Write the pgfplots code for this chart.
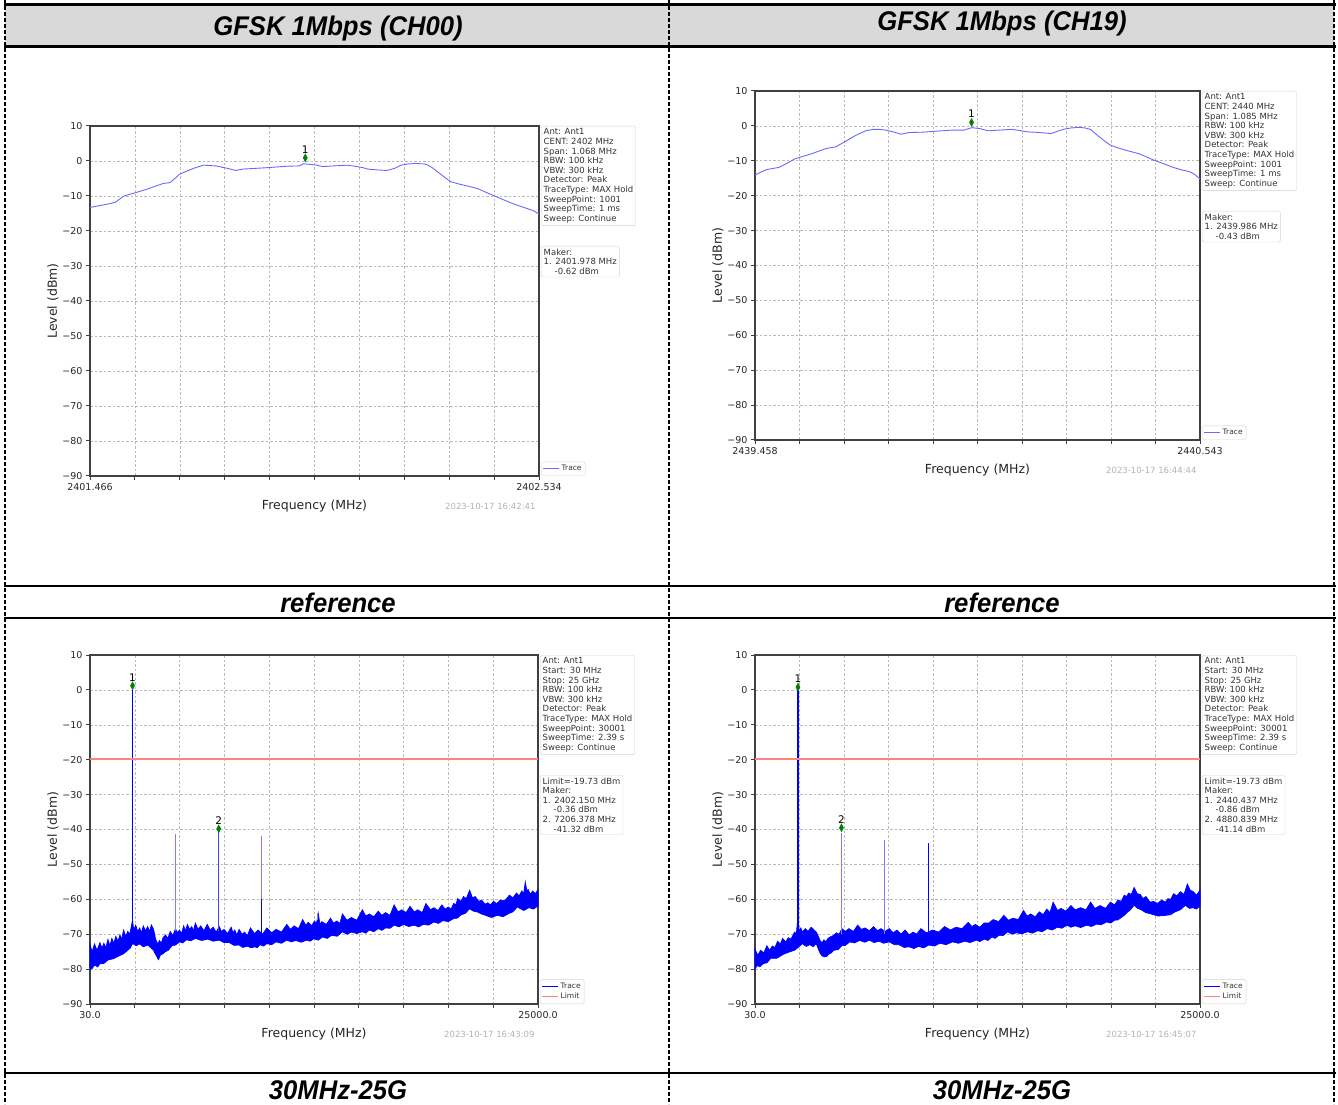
\documentclass[border=0pt]{standalone}
\usepackage{fontspec}
\setmainfont{DejaVu Sans}
\newfontfamily\arialfont{Liberation Sans}
\usepackage{pgfplots}
\pgfplotsset{compat=1.18}

\definecolor{hdrgray}{RGB}{217,217,217}
\definecolor{tracelight}{RGB}{105,105,255}
\definecolor{spurlight}{RGB}{125,125,255}
\definecolor{mkgreen}{RGB}{0,128,0}
\definecolor{limitred}{RGB}{255,130,130}

\pgfplotsset{
  spec/.style={
    scale only axis, clip=false,
    ymin=-90, ymax=10,
    scaled x ticks=false,
    axis line style={black!75, line width=1.2pt},
    grid=major,
    major grid style={gray!55, dash pattern=on 2.5pt off 2pt, line width=0.6pt},
    tick align=outside, tick pos=left,
    major tick length=4pt,
    tick style={black!75, line width=1pt},
    ytick={10,0,-10,-20,-30,-40,-50,-60,-70,-80,-90},
    yticklabels={10,0,−10,−20,−30,−40,−50,−60,−70,−80,−90},
    tick label style={font=\fontsize{9.5}{11}\selectfont, text=black!85},
    xlabel={Frequency (MHz)}, ylabel={Level (dBm)},
    label style={font=\fontsize{12.5}{14}\selectfont, text=black!85},
    xlabel style={at={([yshift=-30pt]axis description cs:0.5,0)}, anchor=center},
    ylabel style={at={([xshift=-37pt]axis description cs:0,0.5)}, anchor=center},
    legend style={at={([xshift=2pt]axis description cs:1,0)}, anchor=south west,
      font=\fontsize{7.5}{8.5}\selectfont, draw=gray!35, rounded corners=1.5pt,
      inner sep=1.5pt, row sep=-1pt, text=black!80},
    legend cell align=left,
    legend image code/.code={\draw[#1] (0pt,0pt) -- (16pt,0pt);},
  },
  mk/.style={only marks, mark=diamond*, mark size=4pt, color=mkgreen,
    mark options={xscale=0.7}, forget plot},
}
\tikzset{
  infobox/.style={draw=gray!35, fill=white, rounded corners=1.5pt, align=left,
    inner sep=2.5pt, font=\fontsize{8.5}{9.6}\selectfont, text=black!80},
  stamp/.style={anchor=east, text=gray!60, font=\fontsize{8.5}{10}\selectfont},
  mklabel/.style={above, font=\fontsize{10.5}{11}\selectfont, yshift=1pt, text=black},
}

\begin{document}
\begin{tikzpicture}[x=1pt,y=1pt]
\useasboundingbox (0,0) rectangle (1338,1104);

% table frame
\fill[hdrgray] (5,1099) rectangle (1334,1057);
\draw[line width=3pt] (4,1099) -- (1336,1099);
\draw[line width=3pt] (4,1057) -- (1336,1057);
\draw[line width=2.5pt] (4,518) -- (1336,518);
\draw[line width=2.5pt] (4,486) -- (1336,486);
\draw[line width=2.5pt] (4,31) -- (1336,31);
\foreach \xx in {5,669,1334}
  \draw[line width=1.5pt, dash pattern=on 4pt off 2pt] (\xx,1104) -- (\xx,0);

\begin{scope}[font=\arialfont\bfseries\itshape\fontsize{27}{30}\selectfont]
\node[xscale=0.95] at (338,1075) {GFSK 1Mbps (CH00)};
\node[xscale=0.95] at (1002,1080) {GFSK 1Mbps (CH19)};
\node[xscale=0.95] at (338,501) {reference};
\node[xscale=0.95] at (1002,501) {reference};
\node[xscale=0.95] at (338,14) {30MHz-25G};
\node[xscale=0.95] at (1002,14) {30MHz-25G};
\end{scope}

% ---------- CH00 in-band ----------
\begin{axis}[spec, at={(90pt,628pt)}, anchor=south west,
  width=449pt, height=350pt, xmin=0, xmax=1068,
  xtick={0,106.8,213.6,320.4,427.2,534,640.8,747.6,854.4,961.2,1068},
  xticklabels={2401.466,,,,,,,,,,2402.534}]
\addlegendimage{tracelight, line width=1pt}
\addlegendentry{Trace}
\addplot[tracelight, line width=0.9pt, forget plot] coordinates {
(0,-13.3)(20,-12.8)(43,-12.3)(60,-11.8)(81,-10)(110,-9)(137,-8)(160,-7)(175,-6.4)
(190,-6.2)(200,-5.2)(213,-3.8)(232,-2.8)(251,-1.9)(270,-1.2)(285,-1.3)(299,-1.4)
(315,-1.8)(327,-2.1)(346,-2.7)(365,-2.3)(395,-2.1)(422,-1.9)(445,-1.7)(469,-1.5)
(498,-1.4)(507,-0.8)(517,-0.9)(535,-1.1)(554,-1.6)(580,-1.4)(611,-1.2)(630,-1.5)
(649,-1.9)(660,-2.3)(668,-2.4)(690,-2.6)(706,-2.7)(725,-2.1)(740,-1.2)(753,-0.9)
(772,-0.7)(790,-0.8)(801,-1.0)(815,-2)(829,-3.3)(845,-4.8)(858,-5.9)(875,-6.5)
(896,-7.1)(910,-7.5)(924,-8)(943,-9)(962,-10)(980,-10.9)(1000,-11.9)(1020,-12.8)
(1038,-13.5)(1055,-14.2)(1068,-15.2)};
\addplot[mk] coordinates {(512,0.9)} node[mklabel] {1};
\node[infobox, anchor=north west] at ([xshift=2pt]axis description cs:1,1)
  {Ant: Ant1\\CENT: 2402 MHz\\Span: 1.068 MHz\\RBW: 100 kHz\\VBW: 300 kHz\\Detector: Peak\\TraceType: MAX Hold\\SweepPoint: 1001\\SweepTime: 1 ms\\Sweep: Continue};
\node[infobox, anchor=north west] at ([xshift=2pt,yshift=-120pt]axis description cs:1,1)
  {Maker:\\1. 2401.978 MHz\\\hspace*{11pt}-0.62 dBm};
\node[stamp] at ([yshift=-30pt]axis description cs:1,0) {2023-10-17 16:42:41};
\end{axis}

% ---------- CH19 in-band ----------
\begin{axis}[spec, at={(755pt,664pt)}, anchor=south west,
  width=445pt, height=349pt, xmin=0, xmax=1085,
  xtick={0,108.5,217,325.5,434,542.5,651,759.5,868,976.5,1085},
  xticklabels={2439.458,,,,,,,,,,2440.543}]
\addlegendimage{tracelight, line width=1pt}
\addlegendentry{Trace}
\addplot[tracelight, line width=0.9pt, forget plot] coordinates {
(0,-14.1)(15,-13.2)(29,-12.5)(58,-11.9)(77,-10.8)(96,-9.5)(115,-8.8)(135,-8.1)
(154,-7.3)(173,-6.5)(197,-6.0)(212,-5.0)(227,-4)(241,-3.0)(255,-2.2)(270,-1.4)
(289,-1.0)(303,-1.0)(318,-1.2)(337,-1.7)(356,-2.4)(375,-1.9)(410,-1.8)(443,-1.5)
(481,-1.2)(510,-1.2)(529,-0.5)(549,-0.8)(568,-1.4)(597,-1.2)(626,-1.0)(645,-1.3)
(664,-1.7)(693,-1.9)(722,-2.2)(741,-1.4)(755,-0.9)(770,-0.6)(789,-0.4)(805,-0.6)
(818,-1.0)(838,-3.0)(852,-4.3)(866,-5.5)(885,-6.3)(905,-7.0)(934,-7.9)(953,-8.8)
(972,-9.8)(1000,-11)(1020,-11.9)(1040,-12.6)(1059,-13.1)(1072,-13.9)(1085,-15.2)};
\addplot[mk] coordinates {(528,1.0)} node[mklabel] {1};
\node[infobox, anchor=north west] at ([xshift=2pt]axis description cs:1,1)
  {Ant: Ant1\\CENT: 2440 MHz\\Span: 1.085 MHz\\RBW: 100 kHz\\VBW: 300 kHz\\Detector: Peak\\TraceType: MAX Hold\\SweepPoint: 1001\\SweepTime: 1 ms\\Sweep: Continue};
\node[infobox, anchor=north west] at ([xshift=2pt,yshift=-120pt]axis description cs:1,1)
  {Maker:\\1. 2439.986 MHz\\\hspace*{11pt}-0.43 dBm};
\node[stamp] at ([yshift=-30pt]axis description cs:1,0) {2023-10-17 16:44:44};
\end{axis}

% ---------- CH00 30MHz-25GHz ----------
\begin{axis}[spec, at={(90pt,100pt)}, anchor=south west,
  width=448pt, height=349pt, xmin=30, xmax=25000,
  xtick={30,2527,5024,7521,10018,12515,15012,17509,20006,22503,25000},
  xticklabels={30.0,,,,,,,,,,25000.0}]
\addlegendimage{blue, line width=1pt}
\addlegendentry{Trace}
\addlegendimage{limitred, line width=1pt}
\addlegendentry{Limit}
\addplot[fill=blue, draw=blue, line width=0.7pt, forget plot] coordinates {
(30,-73)(150,-75)(280,-72.8)(420,-74.6)(584,-72.4)(700,-74)(800,-72.6)(920,-73.8)
(1027,-71.5)(1140,-73.2)(1250,-71.2)(1360,-72.6)(1470,-70.6)(1590,-72)(1700,-70.2)(1800,-71.4)
(1900,-68.8)(2020,-70.6)(2135,-69.2)(2250,-70)(2330,-67.8)(2401,-66)(2470,-68.8)(2578,-67.4)
(2690,-69.2)(2800,-68.2)(2900,-69.6)(3000,-67.6)(3120,-69)(3243,-67.8)(3350,-69.2)(3450,-67.3)
(3575,-68.6)(3686,-71.4)(3800,-72.8)(3907,-71.8)(4000,-72.6)(4100,-71)(4240,-70.2)(4370,-71.2)
(4500,-69.2)(4650,-70.4)(4794,-68.4)(4900,-69.6)(5015,-68.8)(5130,-69.8)(5250,-67.6)(5350,-69)
(5458,-67.2)(5580,-68.6)(5700,-67.8)(5800,-69)(5902,-66.8)(6050,-68.6)(6200,-67.6)(6380,-69)
(6566,-67.2)(6730,-68.8)(6900,-68)(7060,-69.4)(7231,-67.8)(7360,-69.2)(7500,-68.6)(7700,-69.8)
(7896,-68)(8000,-69.6)(8100,-68.8)(8220,-70.2)(8339,-68.6)(8500,-70)(8650,-69.4)(8800,-70.4)
(8974,-68.2)(9200,-69.8)(9400,-68.8)(9650,-70)(9890,-68.2)(10150,-69.6)(10400,-68.6)(10700,-69.4)
(10998,-67.2)(11200,-68.6)(11400,-67.6)(11650,-68.4)(11884,-65.8)(12050,-67.4)(12200,-66.6)(12380,-67.6)
(12549,-66.2)(12650,-67)(12750,-64)(12850,-67.2)(12950,-66.4)(13200,-67.2)(13435,-65.4)(13600,-66.8)
(13800,-66.2)(13950,-67)(14100,-64.2)(14350,-66)(14600,-65.2)(14900,-66)(15208,-63)(15400,-64.8)
(15600,-64.2)(15850,-65)(16094,-63.4)(16300,-64.6)(16500,-63.8)(16750,-64.6)(16980,-61.6)(17200,-63.6)
(17400,-63)(17650,-63.8)(17866,-62)(18100,-63.6)(18300,-63)(18550,-63.8)(18753,-61.2)(19000,-63)
(19200,-62.4)(19420,-63.2)(19639,-61.6)(19820,-62.8)(20000,-62.2)(20150,-62.8)(20304,-61.2)(20420,-61.6)
(20525,-59.8)(20700,-60.6)(20850,-59.2)(21000,-59.8)(21190,-57.4)(21350,-59.6)(21500,-59.2)(21700,-60.6)
(21855,-60.2)(22050,-61.4)(22200,-61)(22350,-61.6)(22519,-60.6)(22700,-61.2)(22900,-60.2)(23150,-60.4)
(23406,-58.8)(23600,-59.6)(23800,-58.2)(23950,-59)(24100,-57.6)(24200,-58.4)(24292,-55)(24380,-57.6)
(24450,-57.2)(24580,-58.6)(24700,-57.6)(24850,-58.4)(25000,-57.2)
(25000,-61.9)(24750,-62.8)(24500,-62.4)(24200,-63.2)(23849,-62.2)(23600,-63.6)(23400,-64)(23050,-65)
(22741,-64.6)(22400,-65.2)(22076,-64.6)(21850,-64.2)(21600,-63.6)(21400,-63.4)(21190,-62.7)(20950,-64)
(20700,-64.5)(20500,-65.4)(20304,-65.5)(20000,-66.4)(19700,-66.1)(19450,-66.9)(19196,-66.5)(18900,-67.4)
(18600,-67.2)(18350,-67.9)(18088,-67.4)(17800,-67.8)(17500,-67.2)(17250,-67.9)(16980,-67.4)(16750,-68.3)
(16500,-68.2)(16300,-68.9)(16094,-68.4)(15850,-69.3)(15600,-68.8)(15400,-69.7)(15208,-69.3)(14900,-69.8)
(14600,-69.4)(14350,-70)(14100,-69.3)(13800,-70.6)(13500,-70.3)(13250,-71.2)(12992,-70.8)(12750,-71.7)
(12500,-71.3)(12300,-72)(12106,-71.7)(11800,-72.3)(11500,-71.8)(11250,-72.2)(10998,-71.7)(10700,-72.6)
(10400,-72.2)(10150,-73)(9890,-72.7)(9700,-73.4)(9500,-73)(9350,-73.9)(9225,-73.6)(9000,-73.9)
(8800,-73.4)(8550,-73.8)(8339,-73.1)(8050,-73.2)(7800,-72.4)(7500,-72.4)(7231,-71.7)(6900,-72)
(6600,-71.4)(6250,-71.8)(5902,-71.2)(5650,-71.9)(5400,-71.6)(5200,-72.5)(5015,-72.2)(4800,-73.1)
(4600,-73.3)(4400,-74.6)(4240,-75)(4100,-75.6)(3950,-76)(3850,-77.3)(3797,-76.9)(3740,-76.2)
(3686,-75.8)(3620,-75.2)(3575,-74.6)(3400,-73.8)(3243,-73.1)(3000,-73.6)(2800,-72.8)(2600,-73.3)
(2401,-72.7)(2270,-74)(2135,-74.6)(1900,-75.6)(1700,-76.1)(1350,-77)(1027,-77.4)(800,-78.4)
(600,-78.4)(450,-79.4)(300,-78.8)(150,-79.8)(30,-80.2)} -- cycle;
\addplot[blue, line width=1pt, forget plot] coordinates {(2402,-70) (2402,1.0)};
\addplot[spurlight, line width=1.2pt, forget plot] coordinates {(4804,-69) (4804,-41.3)};
\addplot[blue!75, line width=1pt, forget plot] coordinates {(7206,-69) (7206,-40)};
\addplot[spurlight, line width=1.2pt, forget plot] coordinates {(9608,-70) (9608,-42)};
\addplot[blue, line width=1pt, forget plot] coordinates {(9608,-70) (9608,-60)};
\addplot[spurlight, line width=0.8pt, forget plot] coordinates {(12700,-66) (12700,-64)};
\addplot[limitred, line width=1.5pt, forget plot] coordinates {(30,-19.73) (25000,-19.73)};
\addplot[mk] coordinates {(2402,1.2)} node[mklabel] {1};
\addplot[mk] coordinates {(7206,-39.8)} node[mklabel] {2};
\node[infobox, anchor=north west] at ([xshift=2pt]axis description cs:1,1)
  {Ant: Ant1\\Start: 30 MHz\\Stop: 25 GHz\\RBW: 100 kHz\\VBW: 300 kHz\\Detector: Peak\\TraceType: MAX Hold\\SweepPoint: 30001\\SweepTime: 2.39 s\\Sweep: Continue};
\node[infobox, anchor=north west] at ([xshift=2pt,yshift=-120pt]axis description cs:1,1)
  {Limit=-19.73 dBm\\Maker:\\1. 2402.150 MHz\\\hspace*{11pt}-0.36 dBm\\2. 7206.378 MHz\\\hspace*{11pt}-41.32 dBm};
\node[stamp] at ([yshift=-30pt]axis description cs:1,0) {2023-10-17 16:43:09};
\end{axis}

% ---------- CH19 30MHz-25GHz ----------
\begin{axis}[spec, at={(755pt,100pt)}, anchor=south west,
  width=445pt, height=349pt, xmin=30, xmax=25000,
  xtick={30,2527,5024,7521,10018,12515,15012,17509,20006,22503,25000},
  xticklabels={30.0,,,,,,,,,,25000.0}]
\addlegendimage{blue, line width=1pt}
\addlegendentry{Trace}
\addlegendimage{limitred, line width=1pt}
\addlegendentry{Limit}
\addplot[fill=blue, draw=blue, line width=0.7pt, forget plot] coordinates {
(30,-74.3)(180,-76)(350,-74.6)(520,-75.4)(695,-73.3)(850,-74.6)(1000,-73.4)(1150,-73.8)
(1300,-72)(1450,-72.8)(1581,-71.2)(1750,-72.2)(1900,-71)(2050,-71.4)(2246,-69.4)(2350,-69.8)
(2445,-64.8)(2500,-69)(2600,-68.2)(2689,-69.4)(2850,-68.4)(3000,-69.2)(3180,-68)(3354,-68.8)
(3470,-69.4)(3575,-70.5)(3700,-72)(3797,-72.4)(3900,-71.6)(4000,-72.2)(4120,-71.2)(4240,-70.8)
(4420,-70.4)(4600,-69.6)(4750,-70)(4905,-68.4)(5100,-69.2)(5300,-68.4)(5550,-69.2)(5791,-67.4)
(6000,-68.6)(6200,-68.2)(6450,-69)(6677,-67.8)(6900,-69)(7100,-68.4)(7330,-69.2)(7563,-68.4)
(7780,-69.6)(8000,-68.8)(8220,-70)(8450,-68.8)(8680,-70.2)(8900,-69.4)(9100,-70)(9336,-68.4)
(9650,-69.6)(10000,-68.8)(10330,-69.4)(10665,-67.8)(11000,-68.8)(11300,-68)(11650,-68.4)(11995,-66.6)
(12200,-67.8)(12400,-67.2)(12640,-68)(12881,-66.8)(13150,-66.8)(13400,-65.8)(13700,-66.4)(13989,-64.6)
(14250,-66)(14500,-65.4)(14800,-65.8)(15097,-63.2)(15300,-64.8)(15500,-64.2)(15750,-65)(15983,-63.6)
(16200,-64.4)(16400,-62.8)(16580,-63.8)(16758,-60.8)(17000,-63.2)(17200,-62.6)(17480,-63.4)(17756,-61.8)
(18000,-63)(18300,-62.4)(18600,-63)(18863,-60.8)(19100,-62.6)(19400,-61.8)(19700,-62.6)(19971,-60.8)
(20200,-61.6)(20400,-60.2)(20580,-60.6)(20747,-58.8)(20880,-59.2)(21000,-58.2)(21150,-58.6)(21301,-56.6)
(21480,-58.4)(21650,-58.6)(21800,-59.8)(21965,-59.2)(22200,-60.8)(22400,-60.6)(22620,-61.2)(22852,-60.2)
(23050,-60.8)(23200,-59.8)(23350,-60)(23516,-58.4)(23700,-59)(23900,-57.8)(24100,-58.6)(24292,-55.6)
(24450,-57.4)(24624,-57.8)(24800,-58.8)(25000,-57.4)
(25000,-61.9)(24800,-62.8)(24600,-62.4)(24400,-62.6)(24181,-61.7)(23900,-63)(23600,-63.6)(23350,-64.4)
(23073,-64.6)(22650,-64.8)(22187,-64.1)(21950,-63.8)(21700,-63)(21500,-62.6)(21301,-61.7)(21100,-63)
(20900,-63.8)(20750,-64.6)(20636,-65)(20400,-65.9)(20200,-66)(20000,-66.8)(19750,-66.5)(19450,-67.3)
(19200,-67.1)(18900,-67.8)(18642,-67.4)(18300,-68.1)(18000,-67.6)(17750,-68)(17534,-67.4)(17250,-68.3)
(17000,-68)(16700,-68.8)(16426,-68.4)(16150,-69.3)(15900,-69)(15600,-69.7)(15318,-69.3)(15000,-69.9)
(14700,-69.6)(14450,-70)(14210,-69.3)(13950,-70.4)(13700,-70.4)(13500,-71.2)(13324,-70.8)(13100,-71.8)
(12900,-71.4)(12650,-72.1)(12438,-71.7)(12100,-72.4)(11800,-72)(11450,-72.6)(11108,-72.2)(10750,-73)
(10400,-72.6)(10100,-73.4)(9779,-73.1)(9500,-73.9)(9200,-73.5)(8950,-74.1)(8671,-73.6)(8400,-73.8)
(8100,-73)(7850,-73)(7563,-72.2)(7250,-72.6)(7000,-72)(6700,-72.4)(6456,-71.7)(6200,-72.3)
(5900,-71.8)(5600,-72.5)(5348,-72.2)(5100,-73.2)(4900,-73.3)(4700,-74.4)(4461,-74.6)(4300,-75.4)
(4200,-75.6)(4050,-76.4)(3907,-76.5)(3800,-76.2)(3686,-75.5)(3580,-74.2)(3464,-72.7)(3300,-73.6)
(3100,-73)(2900,-73.5)(2689,-72.7)(2450,-73.8)(2246,-74.6)(1900,-75.2)(1600,-75.8)(1250,-76.9)
(916,-76.9)(700,-78.2)(500,-78.4)(300,-79.3)(150,-79)(30,-80)} -- cycle;
\addplot[blue, line width=1.1pt, forget plot] coordinates {(2440,-70) (2440,0.6)};
\addplot[spurlight, line width=1.2pt, forget plot] coordinates {(4880,-70) (4880,-41)};
\addplot[spurlight, line width=1pt, forget plot] coordinates {(7320,-70) (7320,-43)};
\addplot[blue, line width=1pt, forget plot] coordinates {(9760,-70) (9760,-44)};
\addplot[limitred, line width=1.5pt, forget plot] coordinates {(30,-19.73) (25000,-19.73)};
\addplot[mk] coordinates {(2440,0.8)} node[mklabel] {1};
\addplot[mk] coordinates {(4880,-39.5)} node[mklabel] {2};
\node[infobox, anchor=north west] at ([xshift=2pt]axis description cs:1,1)
  {Ant: Ant1\\Start: 30 MHz\\Stop: 25 GHz\\RBW: 100 kHz\\VBW: 300 kHz\\Detector: Peak\\TraceType: MAX Hold\\SweepPoint: 30001\\SweepTime: 2.39 s\\Sweep: Continue};
\node[infobox, anchor=north west] at ([xshift=2pt,yshift=-120pt]axis description cs:1,1)
  {Limit=-19.73 dBm\\Maker:\\1. 2440.437 MHz\\\hspace*{11pt}-0.86 dBm\\2. 4880.839 MHz\\\hspace*{11pt}-41.14 dBm};
\node[stamp] at ([yshift=-30pt]axis description cs:1,0) {2023-10-17 16:45:07};
\end{axis}
\end{tikzpicture}
\end{document}
